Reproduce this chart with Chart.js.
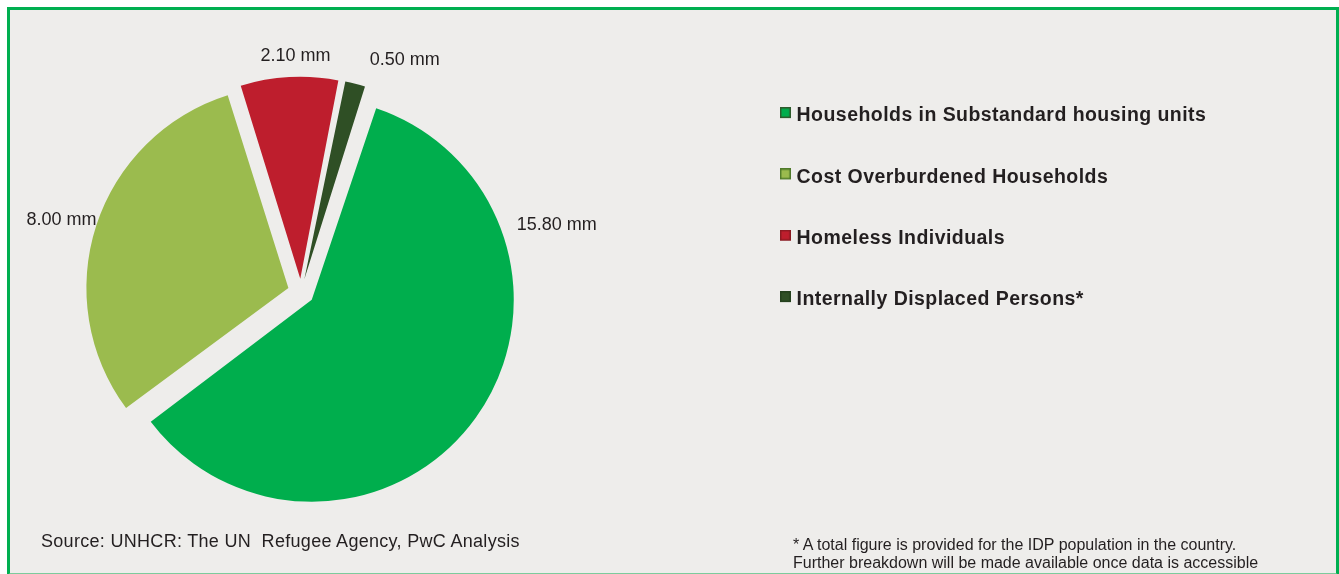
<!DOCTYPE html>
<html>
<head>
<meta charset="utf-8">
<title>Housing need breakdown</title>
<script src="https://cdn.jsdelivr.net/npm/chart.js@4.4.1/dist/chart.umd.min.js"></script>
<style>
  html, body { margin: 0; padding: 0; background: #ffffff; }
  body { width: 1339px; height: 574px; position: relative; overflow: hidden; }
  .frame {
    position: absolute; left: 7px; top: 7px; width: 1332px; height: 569px;
    box-sizing: border-box; background: #EEEDEB;
    border: 3px solid #00AF50; border-bottom-color: #7CCB9C;
  }
  #wrap { position: absolute; left: -140px; top: 0; width: 1479px; height: 574px; }
  .note {
    position: absolute; color: #231F20;
    font-family: "Liberation Sans", Arial, sans-serif; white-space: nowrap;
  }
  .source { left: 41px; top: 532px; font-size: 18px; line-height: 18px; letter-spacing: 0.3px; }
  .foot { left: 793px; top: 536px; font-size: 16px; line-height: 18px; }
</style>
</head>
<body>
<div class="frame"></div>
<div id="wrap"><canvas id="chart" width="1479" height="574"></canvas></div>
<div class="note source">Source: UNHCR: The UN&nbsp; Refugee Agency, PwC Analysis</div>
<div class="note foot">* A total figure is provided for the IDP population in the country.<br>Further breakdown will be made available once data is accessible</div>
<script>
// Categories and values (millions)
const categories = [
  'Households in Substandard housing units',
  'Cost Overburdened Households',
  'Homeless Individuals',
  'Internally Displaced Persons*'
];
const values = [15.80, 8.00, 2.10, 0.50];
const unit = 'mm';

const sliceColors = ['#00AE4D', '#9BBB4E', '#BE1E2D', '#2F4F25'];
const swatchBorders = ['#2E5B2C', '#4F7A2A', '#8A1A22', '#24401D'];

const PIE_RADIUS = 202;
const SLICE_OFFSET = 53;

const CANVAS_W = 1479;
const LEGEND_LEFT = 882;          // legend block starts here (canvas px)
const LEGEND_FONT = { family: '"Liberation Sans", Arial, sans-serif', size: 19.5, weight: 'bold' };
const LEGEND_SPACING = '0.45px';
const LEGEND_PAD = 41.83;
const SWATCH_W = 3;

// Width the legend will ask for, so its left edge lands at LEGEND_LEFT
function legendWidth() {
  const c = document.createElement('canvas').getContext('2d');
  c.font = `${LEGEND_FONT.weight} ${LEGEND_FONT.size}px ${LEGEND_FONT.family}`;
  c.letterSpacing = LEGEND_SPACING;
  const widest = Math.max(...categories.map(t => c.measureText(t).width));
  return LEGEND_PAD + SWATCH_W + LEGEND_FONT.size / 2 + widest + 10;
}
const rightPad = CANVAS_W - LEGEND_LEFT - legendWidth();

// Small framed swatch, sitting a little above the text's centre line
function makeSwatch(fill, border) {
  const c = document.createElement('canvas');
  c.width = 11; c.height = 18;
  const g = c.getContext('2d');
  g.fillStyle = border;
  g.fillRect(0, 0, 11, 11);
  g.fillStyle = fill;
  g.fillRect(1.5, 1.5, 8, 8);
  return c;
}
const swatches = sliceColors.map((col, i) => makeSwatch(col, swatchBorders[i]));

// Slightly tracked legend lettering
const tracking = {
  id: 'tracking',
  beforeLayout(chart) { chart.ctx.letterSpacing = LEGEND_SPACING; },
  beforeDraw(chart) { chart.ctx.letterSpacing = LEGEND_SPACING; }
};

// Keep every exploded slice on the same rim: ArcElement grows the radius
// of a translated slice, so take that growth back off after each update.
const evenRim = {
  id: 'evenRim',
  afterDatasetsUpdate(chart) {
    const meta = chart.getDatasetMeta(0);
    meta.data.forEach(arc => {
      const off = (arc.options.offset || 0) / 4;
      const fix = 1 - Math.sin(Math.min(Math.PI, arc.circumference));
      arc.outerRadius = PIE_RADIUS - off * fix;
    });
  }
};

// Value labels set outside the pie
const valueLabels = {
  id: 'valueLabels',
  afterDatasetsDraw(chart, args, opts) {
    const meta = chart.getDatasetMeta(0);
    const ctx = chart.ctx;
    ctx.save();
    ctx.letterSpacing = '0px';
    ctx.font = opts.font;
    ctx.fillStyle = opts.color;
    ctx.textAlign = 'center';
    ctx.textBaseline = 'middle';
    meta.data.forEach((arc, i) => {
      const {x, y, startAngle, endAngle} = arc.getProps(['x', 'y', 'startAngle', 'endAngle'], true);
      const a = (startAngle + endAngle) / 2 + opts.angleShift[i] * Math.PI / 180;
      const r = PIE_RADIUS + opts.distance[i];
      const text = values[i].toFixed(2) + ' ' + unit;
      ctx.fillText(text, x + Math.cos(a) * r, y + Math.sin(a) * r);
    });
    ctx.restore();
  }
};

const baseLabels = Chart.overrides.doughnut.plugins.legend.labels.generateLabels;

new Chart(document.getElementById('chart'), {
  type: 'pie',
  data: {
    labels: categories,
    datasets: [{
      data: values,
      backgroundColor: sliceColors,
      borderWidth: 0,
      offset: SLICE_OFFSET,
      hoverOffset: SLICE_OFFSET
    }]
  },
  options: {
    responsive: false,
    animation: false,
    rotation: 18,
    radius: PIE_RADIUS,
    layout: { padding: { left: 0, top: 64.5, right: rightPad, bottom: 54.5 } },
    plugins: {
      tooltip: { enabled: false },
      legend: {
        position: 'right',
        align: 'start',
        labels: {
          usePointStyle: true,
          boxWidth: SWATCH_W,
          boxHeight: 11,
          padding: LEGEND_PAD,
          color: '#231F20',
          font: LEGEND_FONT,
          generateLabels(chart) {
            return baseLabels(chart).map((item, i) => Object.assign(item, {
              pointStyle: swatches[i]
            }));
          }
        }
      },
      valueLabels: {
        font: '18px "Liberation Sans", Arial, sans-serif',
        color: '#231F20',
        angleShift: [-50.5, -1.3, 1.8, 9.5],
        distance: [62.5, 48, 34, 52]
      }
    }
  },
  plugins: [tracking, evenRim, valueLabels]
});
</script>
</body>
</html>
